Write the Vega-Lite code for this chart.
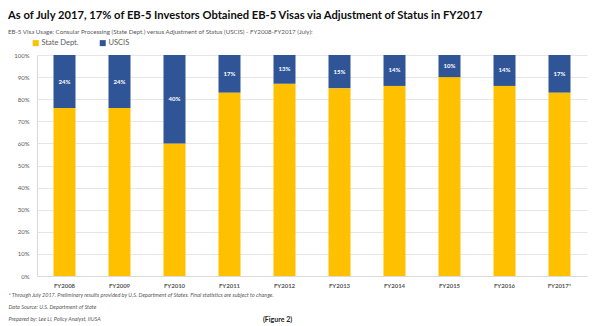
{
  "$schema": "https://vega.github.io/schema/vega-lite/v6.json",
  "width": 550,
  "height": 221,
  "autosize": {"type": "none"},
  "padding": {"left": 37, "top": 55, "right": 13, "bottom": 50},
  "background": "white",
  "config": {
    "font": "Lato",
    "view": {"stroke": null},
    "axisY": {
      "format": ".0%",
      "labelFontSize": 6,
      "labelColor": "#595959",
      "labelPadding": 8,
      "labelOverlap": false,
      "labelBound": false,
      "ticks": false,
      "domainColor": "#d9d9d9",
      "gridColor": "#e6e6e6",
      "title": null
    }
  },
  "title": {
    "text": "As of July 2017, 17% of EB-5 Investors Obtained EB-5 Visas via Adjustment of Status in FY2017",
    "subtitle": "EB-5 Visa Usage: Consular Processing (State Dept.) versus Adjustment of Status (USCIS) - FY2008-FY2017 (July):",
    "anchor": "start",
    "frame": "group",
    "dx": -29,
    "fontSize": 11.2,
    "fontWeight": "bold",
    "color": "#0d0d0d",
    "subtitleFontSize": 6.2,
    "subtitleColor": "#595959",
    "subtitlePadding": 8,
    "offset": 4
  },
  "data": {
    "values": [
      {"year": "FY2008", "series": "State Dept.", "value": 0.76},
      {"year": "FY2008", "series": "USCIS", "value": 0.24},
      {"year": "FY2009", "series": "State Dept.", "value": 0.76},
      {"year": "FY2009", "series": "USCIS", "value": 0.24},
      {"year": "FY2010", "series": "State Dept.", "value": 0.60},
      {"year": "FY2010", "series": "USCIS", "value": 0.40},
      {"year": "FY2011", "series": "State Dept.", "value": 0.83},
      {"year": "FY2011", "series": "USCIS", "value": 0.17},
      {"year": "FY2012", "series": "State Dept.", "value": 0.87},
      {"year": "FY2012", "series": "USCIS", "value": 0.13},
      {"year": "FY2013", "series": "State Dept.", "value": 0.85},
      {"year": "FY2013", "series": "USCIS", "value": 0.15},
      {"year": "FY2014", "series": "State Dept.", "value": 0.86},
      {"year": "FY2014", "series": "USCIS", "value": 0.14},
      {"year": "FY2015", "series": "State Dept.", "value": 0.90},
      {"year": "FY2015", "series": "USCIS", "value": 0.10},
      {"year": "FY2016", "series": "State Dept.", "value": 0.86},
      {"year": "FY2016", "series": "USCIS", "value": 0.14},
      {"year": "FY2017*", "series": "State Dept.", "value": 0.83},
      {"year": "FY2017*", "series": "USCIS", "value": 0.17}
    ]
  },
  "layer": [
    {
      "mark": {"type": "bar"},
      "encoding": {
        "x": {
          "field": "year",
          "type": "nominal",
          "sort": null,
          "scale": {"paddingInner": 0.6, "paddingOuter": 0.3},
          "axis": {
            "labelAngle": 0,
            "labelFont": "Lato",
            "labelFontSize": 6,
            "labelFontWeight": "bold",
            "labelColor": "#595959",
            "labelPadding": 6,
            "labelOverlap": false,
            "ticks": false,
            "domainColor": "#d9d9d9",
            "title": [
              "* Through July 2017. Preliminary results provided by U.S. Department of States. Final statistics are subject to change.",
              "Data Source: U.S. Department of State",
              "Prepared by: Lee Li, Policy Analyst, IIUSA"
            ],
            "titleFont": "Lato",
            "titleFontSize": 5.5,
            "titleFontStyle": "italic",
            "titleFontWeight": "normal",
            "titleColor": "#595959",
            "titleAnchor": "start",
            "titleAlign": "left",
            "titleBaseline": "top",
            "titleX": -29,
            "titleY": 16,
            "titleLineHeight": 12
          }
        },
        "y": {
          "field": "value",
          "type": "quantitative",
          "stack": "zero",
          "scale": {"domain": [0, 1], "nice": false},
          "axis": {"values": [0, 0.1, 0.2, 0.3, 0.4, 0.5, 0.6, 0.7, 0.8, 0.9, 1], "title": null}
        },
        "order": {"field": "series", "sort": "ascending"},
        "color": {
          "field": "series",
          "type": "nominal",
          "scale": {"domain": ["State Dept.", "USCIS"], "range": ["#FFC000", "#2F5597"]},
          "legend": {
            "title": null,
            "orient": "none",
            "direction": "horizontal",
            "legendX": -5,
            "legendY": -16,
            "symbolType": "square",
            "symbolSize": 36,
            "symbolStrokeWidth": 0,
            "labelFontSize": 7.5,
            "labelColor": "#595959",
            "columnPadding": 20,
            "labelOffset": 2
          }
        }
      }
    },
    {
      "transform": [
        {"stack": "value", "groupby": ["year"], "sort": [{"field": "series", "order": "ascending"}], "as": ["v0", "v1"]},
        {"filter": "datum.series === 'USCIS'"},
        {"calculate": "(datum.v0 + datum.v1) / 2", "as": "mid"}
      ],
      "mark": {"type": "text", "color": "white", "fontSize": 6, "fontWeight": "bold"},
      "encoding": {
        "x": {"field": "year", "type": "nominal", "sort": null},
        "y": {
          "field": "mid",
          "type": "quantitative",
          "axis": {"values": [0, 0.1, 0.2, 0.3, 0.4, 0.5, 0.6, 0.7, 0.8, 0.9, 1], "title": null}
        },
        "text": {"field": "value", "type": "quantitative", "format": ".0%"}
      }
    },
    {
      "data": {"values": [{"note": "(Figure 2)"}]},
      "mark": {"type": "text", "fontSize": 7, "fontWeight": "bold", "color": "#222222", "dy": 44, "dx": -7},
      "encoding": {
        "x": {"datum": "FY2012", "type": "nominal"},
        "y": {
          "datum": 0,
          "type": "quantitative",
          "axis": {"values": [0, 0.1, 0.2, 0.3, 0.4, 0.5, 0.6, 0.7, 0.8, 0.9, 1], "title": null}
        },
        "text": {"field": "note", "type": "nominal"}
      }
    }
  ]
}
